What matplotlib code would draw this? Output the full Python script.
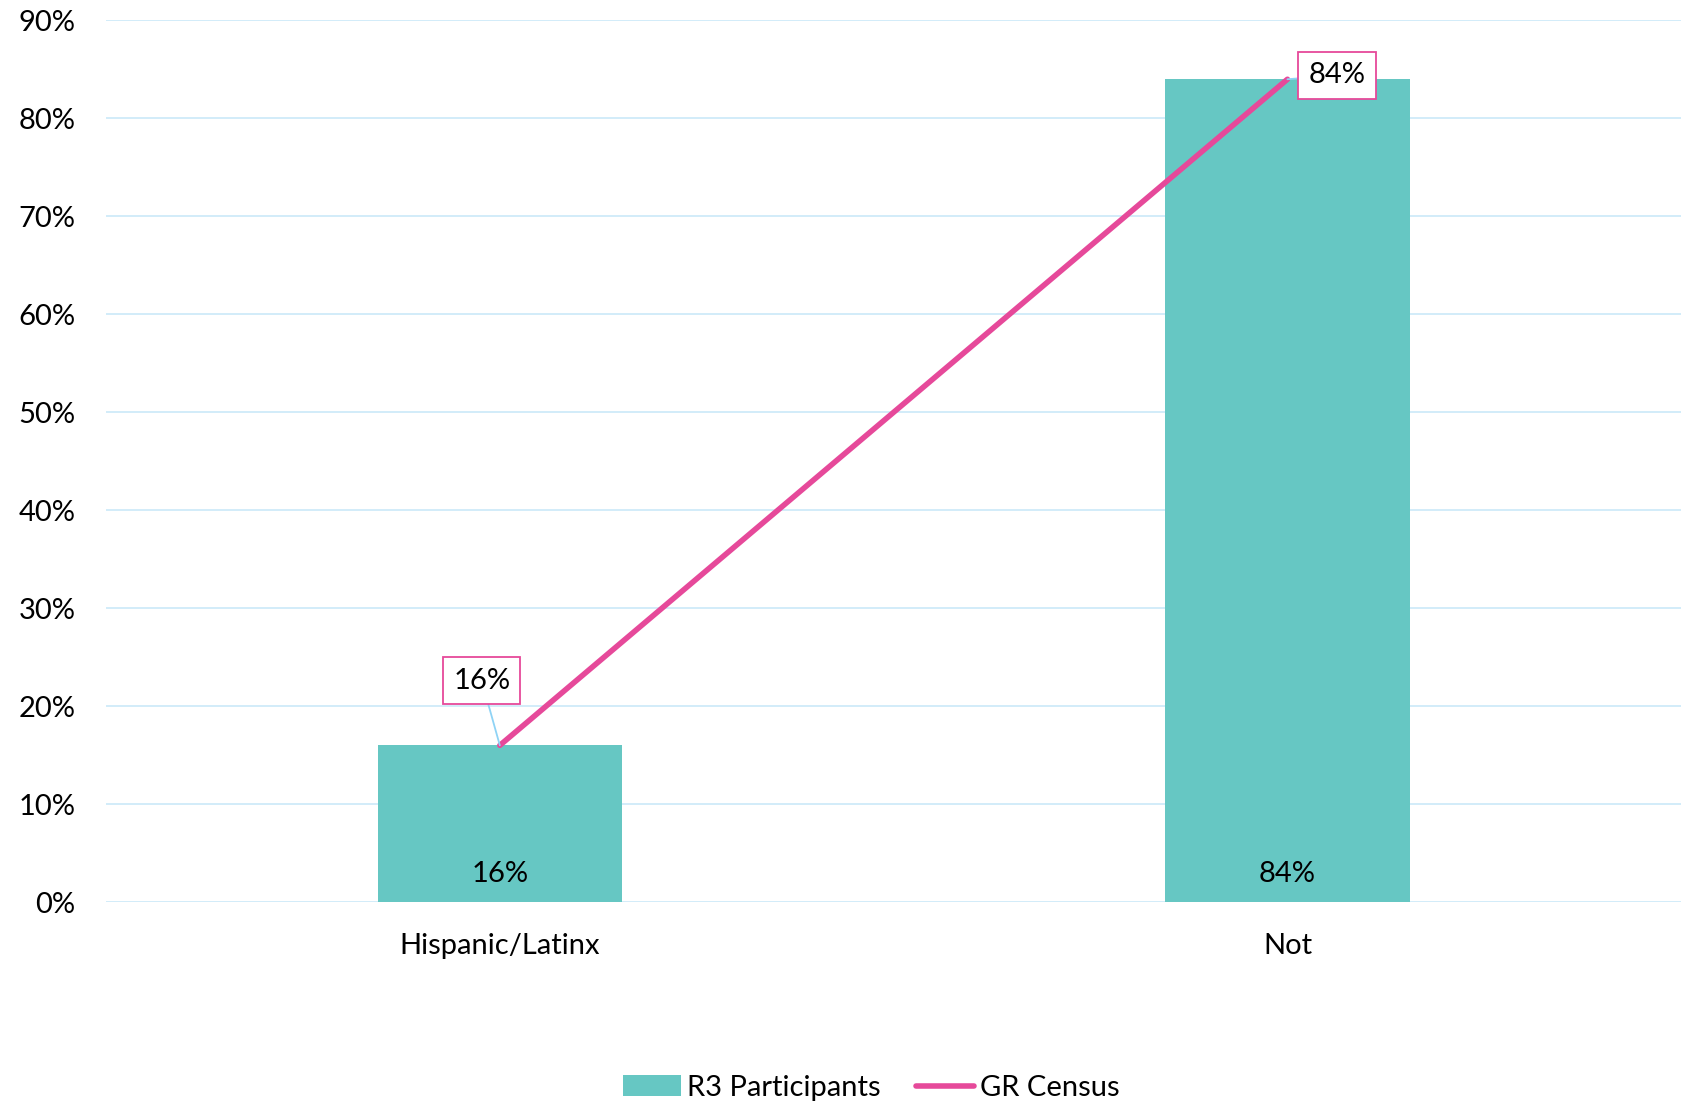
import matplotlib
matplotlib.use("Agg")
import matplotlib.pyplot as plt
from matplotlib.patches import Patch
from matplotlib.lines import Line2D

plt.rcParams['font.family'] = ['Lato', 'DejaVu Sans']

categories = ["Hispanic/Latinx", "Not"]
participants = [16, 84]
census = [16, 84]
yticks = [0, 10, 20, 30, 40, 50, 60, 70, 80, 90]

teal = "#66C7C3"
pink = "#E6499A"
grid = "#CFEAF9"

FS = 21

fig = plt.figure(figsize=(16.88, 11.01), dpi=100)
ax = fig.add_axes([0.0628, 0.1807, 0.9332, 0.8007])

x = list(range(len(categories)))
ax.bar(x, participants, width=0.31, color=teal, zorder=2)
ax.plot(x, census, color=pink, linewidth=4, solid_capstyle='round', zorder=3)

for xi, v in zip(x, participants):
    ax.text(xi, 2.9, f"{v}%", ha='center', va='center', fontsize=FS, color='black', zorder=4)

# line labels with boxes and leader lines
label_pos = [(-0.023, 22.6), (1.063, 84.4)]
for xi, v, (lx, ly) in zip(x, census, label_pos):
    ax.annotate(f"{v}%", xy=(xi, v), xytext=(lx, ly), ha='center', va='center',
                fontsize=FS, color='black', zorder=5,
                bbox=dict(boxstyle='square,pad=0.35', fc='white', ec=pink, lw=1.3),
                arrowprops=dict(arrowstyle='-', color='#8FD3F5', lw=1.3,
                                shrinkA=0, shrinkB=0))

ax.set_xlim(-0.5, 1.5)
ax.set_ylim(0, 90)
ax.set_yticks(yticks)
ax.set_yticklabels([f"{t}%" for t in yticks], fontsize=FS)
ax.set_xticks(x)
ax.set_xticklabels(categories, fontsize=FS)
ax.tick_params(axis='both', length=0)
ax.tick_params(axis='x', pad=22)
ax.tick_params(axis='y', pad=22)
ax.grid(axis='y', color=grid, linewidth=1.3, zorder=0)
ax.set_axisbelow(True)
for s in ax.spines.values():
    s.set_visible(False)

handles = [Patch(facecolor=teal, edgecolor='none', label="R3 Participants"),
           Line2D([0], [0], color=pink, linewidth=4, solid_capstyle='round', label="GR Census")]
fig.legend(handles=handles, loc='center', bbox_to_anchor=(0.516, 0.012), ncol=2,
           frameon=False, fontsize=FS, handlelength=2.0, handletextpad=0.2, columnspacing=1.2)

fig.savefig("out.png", dpi=100)
